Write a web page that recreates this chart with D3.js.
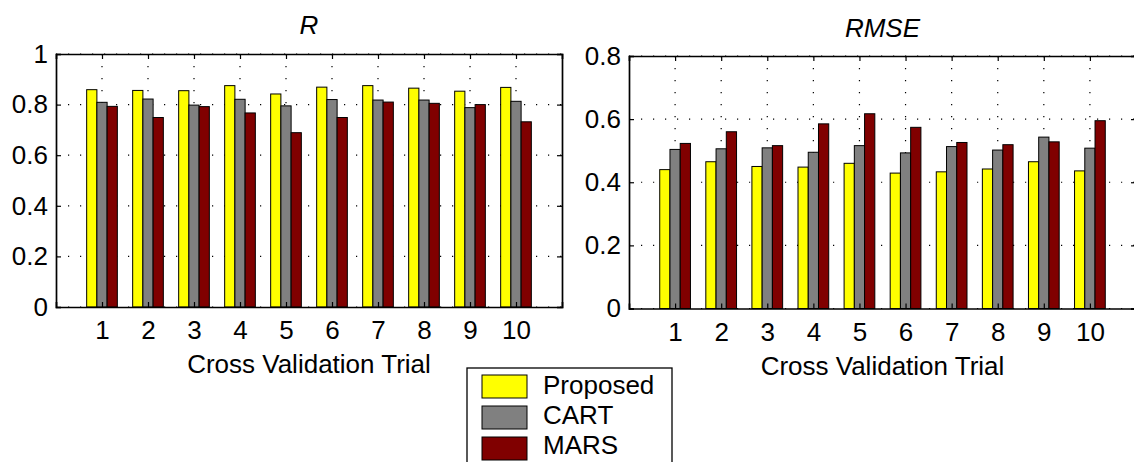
<!DOCTYPE html>
<html>
<head>
<meta charset="utf-8">
<script src="https://cdn.jsdelivr.net/npm/d3@7"></script>
<style>
  body { margin: 0; background: #fff; }
  svg { display: block; font-family: "Liberation Sans", Arial, sans-serif; }
</style>
</head>
<body>
<svg id="fig" width="1134" height="462"></svg>
<script>
// data
var trials = [1, 2, 3, 4, 5, 6, 7, 8, 9, 10];
var methods = ["Proposed", "CART", "MARS"];
var colors = ["#ffff00", "#808080", "#800000"];

var rProposed = [0.859, 0.856, 0.855, 0.875, 0.842, 0.869, 0.875, 0.865, 0.853, 0.868];
var rCart     = [0.809, 0.822, 0.798, 0.821, 0.795, 0.820, 0.818, 0.818, 0.788, 0.813];
var rMars     = [0.793, 0.749, 0.792, 0.767, 0.689, 0.749, 0.810, 0.805, 0.800, 0.732];

var rmseProposed = [0.440, 0.465, 0.450, 0.448, 0.460, 0.429, 0.433, 0.442, 0.465, 0.436];
var rmseCart     = [0.504, 0.506, 0.509, 0.495, 0.516, 0.493, 0.513, 0.502, 0.543, 0.508];
var rmseMars     = [0.523, 0.560, 0.516, 0.585, 0.617, 0.574, 0.526, 0.519, 0.528, 0.595];

var rTicks = [0, 0.2, 0.4, 0.6, 0.8, 1];
var rmseTicks = [0, 0.2, 0.4, 0.6, 0.8];

var svg = d3.select("#fig");
var fontSize = 26;

function panel(opts) {
  var g = svg.append("g");
  var x = d3.scaleLinear().domain([0, 11]).range([opts.left, opts.right]);
  var y = d3.scaleLinear().domain(opts.ydom).range([opts.bottom, opts.top]);
  var barW = 2 / 9; // matlab grouped bar: 3 bars in 2/3 of a unit

  // grid (dotted)
  g.selectAll(".gx").data(trials).enter().append("line")
    .attr("x1", d => x(d)).attr("x2", d => x(d))
    .attr("y1", opts.top).attr("y2", opts.bottom)
    .attr("stroke", "#000").attr("stroke-width", 1.2)
    .attr("stroke-dasharray", "1.2,10.8");
  g.selectAll(".gy").data(opts.ticks).enter().append("line")
    .attr("x1", opts.left).attr("x2", opts.right)
    .attr("y1", d => y(d)).attr("y2", d => y(d))
    .attr("stroke", "#000").attr("stroke-width", 1.2)
    .attr("stroke-dasharray", "1.2,10.8");

  // bars
  opts.series.forEach(function (vals, s) {
    g.selectAll(".b" + s).data(vals).enter().append("rect")
      .attr("x", (d, i) => x(trials[i] + (s - 1.5) * barW))
      .attr("width", x(barW) - x(0))
      .attr("y", d => y(d))
      .attr("height", d => y(0) - y(d))
      .attr("fill", colors[s])
      .attr("stroke", "#000").attr("stroke-width", 1);
  });

  // axes box with inner ticks
  var tl = 5;
  var axB = d3.axisBottom(x).tickValues(trials).tickSize(-tl).tickPadding(14).tickFormat(d3.format("d"));
  var axT = d3.axisTop(x).tickValues(trials).tickSize(-tl).tickFormat("");
  var axL = d3.axisLeft(y).tickValues(opts.ticks).tickSize(-tl).tickPadding(8)
    .tickFormat(d => d === 0 ? "0" : d3.format("")(+d.toFixed(1)));
  var axR = d3.axisRight(y).tickValues(opts.ticks).tickSize(-tl).tickFormat("");

  [[axB, "translate(0," + opts.bottom + ")"], [axT, "translate(0," + opts.top + ")"],
   [axL, "translate(" + opts.left + ",0)"], [axR, "translate(" + opts.right + ",0)"]]
    .forEach(function (a) {
      var ag = g.append("g").attr("transform", a[1]).call(a[0]);
      ag.select(".domain").attr("stroke-width", 1.7);
      ag.selectAll(".tick line").attr("stroke-width", 1.2);
      ag.selectAll("text").attr("font-size", fontSize).attr("fill", "#000")
        .attr("font-family", "Liberation Sans, Arial, sans-serif");
    });

  g.append("text")
    .attr("x", (opts.left + opts.right) / 2).attr("y", opts.titleY)
    .attr("text-anchor", "middle").attr("font-size", fontSize)
    .attr("font-style", "italic").text(opts.title);
  g.append("text")
    .attr("x", (opts.left + opts.right) / 2).attr("y", opts.xlabelY)
    .attr("text-anchor", "middle").attr("font-size", fontSize)
    .text("Cross Validation Trial");
}

panel({ left: 56, right: 562, top: 54, bottom: 307, ydom: [0, 1], ticks: rTicks,
        series: [rProposed, rCart, rMars], title: "R", titleY: 34, xlabelY: 373 });
panel({ left: 629, right: 1136, top: 56, bottom: 308.5, ydom: [0, 0.8], ticks: rmseTicks,
        series: [rmseProposed, rmseCart, rmseMars], title: "RMSE", titleY: 37, xlabelY: 375 });

// legend
var lg = svg.append("g");
lg.append("rect").attr("x", 467).attr("y", 368).attr("width", 205).attr("height", 120)
  .attr("fill", "#fff").attr("stroke", "#000").attr("stroke-width", 1.3);
methods.forEach(function (m, i) {
  lg.append("rect").attr("x", 482).attr("y", 375 + i * 31).attr("width", 45).attr("height", 23)
    .attr("fill", colors[i]).attr("stroke", "#000").attr("stroke-width", 1);
  lg.append("text").attr("x", 543).attr("y", 394 + i * 30).attr("font-size", fontSize).text(m);
});
</script>
</body>
</html>
